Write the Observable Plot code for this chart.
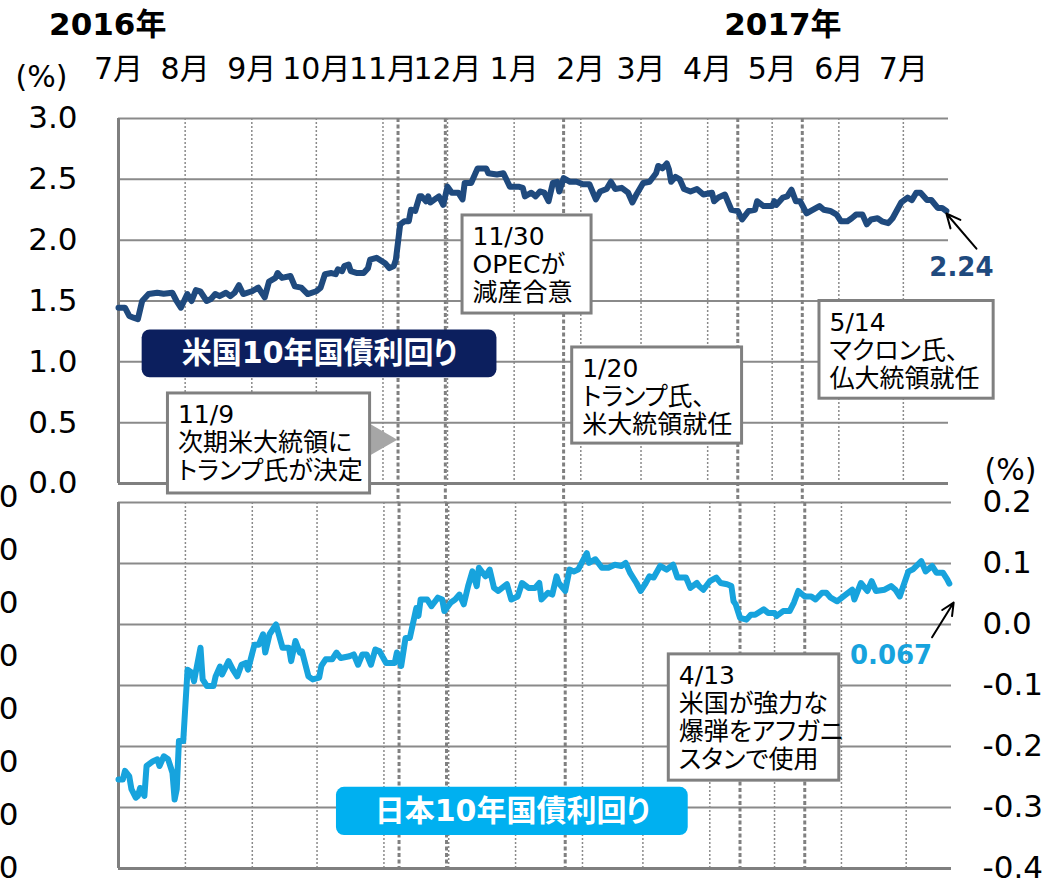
<!DOCTYPE html>
<html><head><meta charset="utf-8">
<script src="https://cdn.jsdelivr.net/npm/d3@7"></script>
<script src="https://cdn.jsdelivr.net/npm/@observablehq/plot@0.6"></script>
<style>
body{margin:0;background:#fff;}
#chart{position:relative;width:1049px;height:882px;overflow:hidden;background:#fff;}
#chart svg{position:absolute;left:0;top:0;}
#chart svg text{font-feature-settings:"palt";}
</style></head><body><div id="chart"></div>
<script>
// ---------- data ----------
const monthTickDates = ["2016-07-01","2016-08-01","2016-09-01","2016-10-01","2016-11-01","2016-12-01",
  "2017-01-01","2017-02-01","2017-03-01","2017-04-01","2017-05-01","2017-06-01","2017-07-01"];
const monthTickLabels = ["7月","8月","9月","10月","11月","12月","1月","2月","3月","4月","5月","6月","7月"];
const usTicks = [0, 0.5, 1, 1.5, 2, 2.5, 3];
const jpTicks = [-0.4, -0.3, -0.2, -0.1, 0, 0.1, 0.2];
const hiddenLeftTicks = [0, 1, 2, 3, 4, 5, 6, 7];
const yearLabels = ["2016年", "2017年"];
const yearLabelDates = ["2016-06-26", "2017-05-06"];
const eventDates = ["2016-11-08", "2016-11-30", "2017-01-24", "2017-04-15", "2017-05-15"];

const usDates = [
  "2016-07-01","2016-07-04","2016-07-06","2016-07-08","2016-07-10","2016-07-12","2016-07-15","2016-07-19","2016-07-22","2016-07-26","2016-07-28","2016-07-30",
  "2016-08-02","2016-08-04","2016-08-06","2016-08-08","2016-08-11","2016-08-13","2016-08-15","2016-08-17","2016-08-20","2016-08-22","2016-08-24","2016-08-26","2016-08-28",
  "2016-09-01","2016-09-04","2016-09-07","2016-09-09","2016-09-12","2016-09-13","2016-09-15","2016-09-19","2016-09-21","2016-09-24","2016-09-27",
  "2016-10-01","2016-10-03","2016-10-05","2016-10-08","2016-10-10","2016-10-11","2016-10-13","2016-10-14","2016-10-16","2016-10-17","2016-10-20","2016-10-23","2016-10-25","2016-10-26","2016-10-29",
  "2016-11-02","2016-11-04","2016-11-06","2016-11-07","2016-11-09","2016-11-11","2016-11-13","2016-11-14","2016-11-16","2016-11-18","2016-11-19","2016-11-21","2016-11-22","2016-11-23","2016-11-27","2016-11-29",
  "2016-12-01","2016-12-03","2016-12-06","2016-12-08","2016-12-09","2016-12-12","2016-12-15","2016-12-19","2016-12-20","2016-12-24","2016-12-27","2016-12-30",
  "2017-01-03","2017-01-05","2017-01-06","2017-01-09","2017-01-11","2017-01-13","2017-01-15","2017-01-17","2017-01-19","2017-01-21","2017-01-22","2017-01-24","2017-01-27","2017-01-30",
  "2017-02-02","2017-02-05","2017-02-08","2017-02-10","2017-02-13","2017-02-15","2017-02-17","2017-02-20","2017-02-23","2017-02-25","2017-02-27",
  "2017-03-02","2017-03-05","2017-03-08","2017-03-09","2017-03-11","2017-03-13","2017-03-14","2017-03-15","2017-03-17","2017-03-19","2017-03-21","2017-03-24","2017-03-27","2017-03-30",
  "2017-04-03","2017-04-04","2017-04-06","2017-04-09","2017-04-12","2017-04-15","2017-04-17","2017-04-20","2017-04-23","2017-04-24","2017-04-27",
  "2017-05-01","2017-05-02","2017-05-03","2017-05-06","2017-05-08","2017-05-10","2017-05-12","2017-05-14","2017-05-17","2017-05-19","2017-05-23","2017-05-25","2017-05-28","2017-05-31",
  "2017-06-02","2017-06-05","2017-06-07","2017-06-09","2017-06-12","2017-06-14","2017-06-16","2017-06-19","2017-06-21","2017-06-24","2017-06-26","2017-06-30",
  "2017-07-03","2017-07-05","2017-07-07","2017-07-09","2017-07-12","2017-07-14","2017-07-17","2017-07-19","2017-07-21"];
const usValues = [
  1.445,1.445,1.377,1.363,1.35,1.50,1.557,1.568,1.56,1.568,1.50,1.445,
  1.557,1.50,1.59,1.58,1.50,1.516,1.557,1.54,1.568,1.54,1.568,1.63,1.557,
  1.58,1.61,1.53,1.66,1.69,1.73,1.69,1.705,1.62,1.61,1.557,
  1.58,1.61,1.72,1.73,1.72,1.76,1.745,1.787,1.80,1.745,1.73,1.73,1.77,1.84,1.855,
  1.81,1.77,1.787,1.84,2.13,2.155,2.155,2.25,2.24,2.36,2.36,2.32,2.36,2.31,2.36,2.29,
  2.44,2.39,2.39,2.335,2.47,2.47,2.59,2.59,2.55,2.54,2.55,2.44,
  2.44,2.43,2.36,2.39,2.36,2.40,2.39,2.32,2.47,2.48,2.40,2.51,2.48,2.48,
  2.46,2.46,2.335,2.40,2.42,2.48,2.42,2.43,2.39,2.31,2.38,
  2.47,2.48,2.55,2.61,2.59,2.63,2.58,2.48,2.52,2.50,2.42,2.40,2.42,2.375,
  2.39,2.32,2.35,2.375,2.25,2.24,2.17,2.24,2.25,2.32,2.28,
  2.28,2.32,2.29,2.35,2.36,2.415,2.32,2.32,2.22,2.24,2.28,2.25,2.24,2.21,
  2.155,2.155,2.18,2.21,2.21,2.13,2.17,2.18,2.155,2.14,2.18,2.31,
  2.35,2.33,2.39,2.39,2.33,2.33,2.265,2.265,2.24];

const jpDates = [
  "2016-07-01","2016-07-03","2016-07-04","2016-07-06","2016-07-07","2016-07-09","2016-07-10","2016-07-11","2016-07-13","2016-07-14","2016-07-17","2016-07-19","2016-07-20","2016-07-22","2016-07-24","2016-07-26","2016-07-27","2016-07-28","2016-07-29","2016-07-31",
  "2016-08-02","2016-08-04","2016-08-05","2016-08-08","2016-08-09","2016-08-11","2016-08-14","2016-08-15","2016-08-17","2016-08-18","2016-08-21","2016-08-23","2016-08-25","2016-08-27","2016-08-29","2016-08-30",
  "2016-09-02","2016-09-04","2016-09-06","2016-09-07","2016-09-09","2016-09-12","2016-09-15","2016-09-18","2016-09-19","2016-09-21","2016-09-23","2016-09-24","2016-09-27","2016-09-29",
  "2016-10-02","2016-10-03","2016-10-05","2016-10-08","2016-10-10","2016-10-12","2016-10-16","2016-10-18","2016-10-20","2016-10-22","2016-10-24","2016-10-26","2016-10-28","2016-10-30",
  "2016-11-02","2016-11-06","2016-11-07","2016-11-09","2016-11-11","2016-11-13","2016-11-16","2016-11-17","2016-11-18","2016-11-21","2016-11-23","2016-11-26","2016-11-28","2016-11-29",
  "2016-12-02","2016-12-04","2016-12-06","2016-12-08","2016-12-10","2016-12-12","2016-12-14","2016-12-15","2016-12-18","2016-12-20","2016-12-22","2016-12-24","2016-12-28","2016-12-30",
  "2017-01-02","2017-01-04","2017-01-07","2017-01-10","2017-01-12","2017-01-13","2017-01-16","2017-01-18","2017-01-20","2017-01-21","2017-01-24","2017-01-26","2017-01-28","2017-01-30",
  "2017-02-03","2017-02-04","2017-02-07","2017-02-10","2017-02-13","2017-02-16","2017-02-19","2017-02-21","2017-02-23","2017-02-26","2017-02-28",
  "2017-03-02","2017-03-04","2017-03-06","2017-03-09","2017-03-12","2017-03-15","2017-03-17","2017-03-21","2017-03-23","2017-03-26","2017-03-27","2017-03-29",
  "2017-04-01","2017-04-04","2017-04-06","2017-04-09","2017-04-11","2017-04-12","2017-04-13","2017-04-15","2017-04-18","2017-04-20","2017-04-22","2017-04-26","2017-04-28",
  "2017-05-01","2017-05-02","2017-05-05","2017-05-08","2017-05-10","2017-05-12","2017-05-15","2017-05-18","2017-05-20","2017-05-23","2017-05-25","2017-05-27","2017-05-30",
  "2017-06-03","2017-06-06","2017-06-07","2017-06-10","2017-06-13","2017-06-15","2017-06-17","2017-06-21","2017-06-24","2017-06-26","2017-06-28",
  "2017-07-02","2017-07-04","2017-07-08","2017-07-10","2017-07-13","2017-07-15","2017-07-18","2017-07-20","2017-07-21"];
const jpValues = [
  -0.254,-0.254,-0.240,-0.249,-0.270,-0.284,-0.281,-0.268,-0.281,-0.232,-0.224,-0.221,-0.232,-0.216,-0.221,-0.243,-0.287,-0.270,-0.191,-0.191,
  -0.074,-0.079,-0.093,-0.038,-0.090,-0.101,-0.101,-0.085,-0.069,-0.082,-0.060,-0.074,-0.085,-0.066,-0.063,-0.074,
  -0.033,-0.033,-0.016,-0.046,-0.016,0.0,-0.038,-0.038,-0.060,-0.027,-0.046,-0.044,-0.085,-0.090,
  -0.087,-0.068,-0.057,-0.057,-0.046,-0.055,-0.052,-0.049,-0.066,-0.049,-0.049,-0.066,-0.041,-0.044,
  -0.063,-0.063,-0.046,-0.068,-0.022,-0.022,0.027,0.014,0.041,0.041,0.030,0.044,0.041,0.022,
  0.036,0.041,0.049,0.033,0.063,0.087,0.063,0.093,0.079,0.090,0.060,0.055,0.066,0.041,
  0.046,0.068,0.060,0.060,0.068,0.041,0.052,0.049,0.079,0.068,0.055,0.090,0.087,0.090,
  0.117,0.101,0.107,0.093,0.093,0.098,0.096,0.101,0.085,0.068,0.055,
  0.066,0.079,0.077,0.096,0.090,0.098,0.077,0.077,0.060,0.068,0.063,0.057,
  0.071,0.077,0.068,0.066,0.063,0.038,0.033,0.011,0.008,0.016,0.016,0.025,0.019,
  0.019,0.014,0.022,0.022,0.036,0.055,0.046,0.046,0.041,0.052,0.052,0.044,0.038,
  0.049,0.057,0.041,0.068,0.055,0.071,0.055,0.057,0.063,0.057,0.046,
  0.087,0.090,0.104,0.087,0.096,0.085,0.085,0.074,0.067];

const usSeriesName = "米国10年国債利回り";
const jpSeriesName = "日本10年国債利回り";
const usLastLabel = "2.24";
const jpLastLabel = "0.067";
const unitLabel = "(%)";
const usNoteTexts = ["11/9\n次期米大統領に\nトランプ氏が決定", "11/30\nOPECが\n減産合意", "1/20\nトランプ氏、\n米大統領就任", "5/14\nマクロン氏、\n仏大統領就任"];
const jpNoteTexts = ["4/13\n米国が強力な\n爆弾をアフガニ\nスタンで使用"];

// ---------- layout (annotation placement in data space) ----------
const usNoteBoxes = [
  {x1: "2016-07-24", x2: "2016-10-26", y1: 0.74, y2: -0.082},
  {x1: "2016-12-08", x2: "2017-02-06", y1: 2.203, y2: 1.397},
  {x1: "2017-01-28", x2: "2017-04-17", y1: 1.118, y2: 0.328},
  {x1: "2017-05-23", x2: "2017-08-12", y1: 1.50, y2: 0.697}
];
const jpNoteBoxes = [{x1: "2017-03-13", x2: "2017-05-31", y1: -0.049, y2: -0.256}];
const usNameBox = {x1: "2016-07-12", x2: "2016-12-24", y1: 1.262, y2: 0.869};
const jpNameBox = {x1: "2016-10-10", x2: "2017-03-22", y1: -0.267, y2: -0.346};
const usPointer = {x: "2016-10-30", y: 0.36};
const usArrow = {x1: "2017-08-04", y1: 1.93, x2: "2017-07-21", y2: 2.219};
const jpArrow = {x1: "2017-07-13", y1: -0.021, x2: "2017-07-23", y2: 0.036};
const usLastPos = {x: "2017-07-28", y: 1.775};
const jpLastPos = {x: "2017-06-24", y: -0.051};

// ---------- build ----------
const P = s => new Date(s);
const FONT = '"DejaVu Sans", "Noto Sans CJK JP", sans-serif';
const xDomain = [P("2016-07-01"), P("2017-07-22")];
const monthTicks = monthTickDates.map(P);
const monthLabelMap = new Map(monthTicks.map((d, i) => [+d, monthTickLabels[i]]));
const fmt1 = d => d.toFixed(1);
const mid = (a, b) => new Date((+P(a) + +P(b)) / 2);

const usData = usDates.map((d, i) => ({date: P(d), value: usValues[i]}));
const jpData = jpDates.map((d, i) => ({date: P(d), value: jpValues[i]}));
const usNotes = usNoteBoxes.map((b, i) => ({...b, x1: P(b.x1), x2: P(b.x2), text: usNoteTexts[i]}));
const jpNotes = jpNoteBoxes.map((b, i) => ({...b, x1: P(b.x1), x2: P(b.x2), text: jpNoteTexts[i]}));
const years = yearLabels.map((t, i) => ({label: t, date: P(yearLabelDates[i])}));

const GRID = "#8a8a8a";
const US_COLOR = "#1f4a7e";
const JP_COLOR = "#17a3dd";
const AXIS_FS = 31;
const styleBase = {fontFamily: FONT, fontSize: "27px", background: "transparent", overflow: "visible", color: "#000"};

const bottomPlot = Plot.plot({
  width: 1049, height: 882,
  marginTop: 502, marginBottom: 14, marginLeft: 118, marginRight: 98,
  style: styleBase,
  x: {type: "utc", domain: xDomain, axis: null},
  y: {domain: [-0.4, 0.2], axis: null},
  marks: [
    Plot.ruleY(jpTicks, {stroke: GRID, strokeWidth: 2}),
    Plot.ruleX(monthTicks.slice(1), {stroke: GRID, strokeWidth: 1.5, strokeDasharray: "2,2"}),
    Plot.ruleX(eventDates.map(P), {stroke: "#808080", strokeWidth: 3, strokeDasharray: "4,2.5"}),
    Plot.ruleY([-0.4], {stroke: "#7f7f7f", strokeWidth: 3}),
    Plot.ruleX([xDomain[0]], {stroke: "#7f7f7f", strokeWidth: 3}),
    Plot.line(jpData, {x: "date", y: "value", stroke: JP_COLOR, strokeWidth: 6, strokeLinejoin: "round", strokeLinecap: "round"}),
    Plot.rect(jpNotes, {x1: "x1", x2: "x2", y1: "y1", y2: "y2", fill: "white", stroke: "#808080", strokeWidth: 3}),
    Plot.text(jpNotes, {x: "x1", y: "y1", text: "text", textAnchor: "start", lineAnchor: "top", lineHeight: 1.12, fontSize: 25, dx: 10, dy: 10, fill: "#000"}),
    Plot.rect([jpNameBox], {x1: d => P(d.x1), x2: d => P(d.x2), y1: "y1", y2: "y2", fill: "#00b0f0", rx: 8}),
    Plot.text([jpNameBox], {x: d => mid(d.x1, d.x2), y: d => (d.y1 + d.y2) / 2, text: () => jpSeriesName, fill: "white", fontWeight: "bold", fontSize: 30}),
    Plot.arrow([jpArrow], {x1: d => P(d.x1), y1: "y1", x2: d => P(d.x2), y2: "y2", stroke: "#000", strokeWidth: 2, headLength: 14, headAngle: 50}),
    Plot.text([jpLastPos], {x: d => P(d.x), y: "y", text: () => jpLastLabel, fill: JP_COLOR, fontWeight: "bold", fontSize: 26}),
    Plot.axisY({anchor: "right", ticks: jpTicks, tickFormat: fmt1, tickSize: 0, tickPadding: 31, fontSize: AXIS_FS, label: null}),
    Plot.text([unitLabel], {frameAnchor: "top-right", textAnchor: "middle", lineAnchor: "middle", dx: 59, dy: -32, fontSize: 30})
  ]
});

const hiddenPlot = Plot.plot({
  width: 40, height: 882,
  marginTop: 497, marginBottom: 14, marginLeft: 18, marginRight: 0,
  style: styleBase,
  y: {domain: [0, 7], axis: null},
  marks: [
    Plot.axisY({anchor: "left", ticks: hiddenLeftTicks, tickFormat: fmt1, tickSize: 0, tickPadding: 0, fontSize: AXIS_FS, label: null})
  ]
});

const topPlot = Plot.plot({
  width: 1049, height: 502,
  marginTop: 118, marginBottom: 19, marginLeft: 118, marginRight: 101,
  style: styleBase,
  x: {type: "utc", domain: xDomain},
  y: {domain: [0, 3]},
  marks: [
    Plot.ruleY(usTicks.filter(d => d > 0), {stroke: GRID, strokeWidth: 2}),
    Plot.ruleX(monthTicks.slice(1), {stroke: GRID, strokeWidth: 1.5, strokeDasharray: "2,2"}),
    Plot.ruleX(eventDates.map(P), {stroke: "#808080", strokeWidth: 3, strokeDasharray: "4,2.5", insetBottom: -19}),
    Plot.ruleY([0], {stroke: "#7f7f7f", strokeWidth: 3}),
    Plot.ruleX([xDomain[0]], {stroke: "#7f7f7f", strokeWidth: 3}),
    Plot.line(usData, {x: "date", y: "value", stroke: US_COLOR, strokeWidth: 6, strokeLinejoin: "round", strokeLinecap: "round"}),
    Plot.rect([usNameBox], {x1: d => P(d.x1), x2: d => P(d.x2), y1: "y1", y2: "y2", fill: "#0c1f5e", rx: 8}),
    Plot.text([usNameBox], {x: d => mid(d.x1, d.x2), y: d => (d.y1 + d.y2) / 2, text: () => usSeriesName, fill: "white", fontWeight: "bold", fontSize: 30}),
    Plot.dot([usPointer], {x: d => P(d.x), y: "y", symbol: "triangle", r: 12, rotate: 90, fill: "#a6a6a6", stroke: "none"}),
    Plot.rect(usNotes, {x1: "x1", x2: "x2", y1: "y1", y2: "y2", fill: "white", stroke: "#808080", strokeWidth: 3}),
    Plot.text(usNotes, {x: "x1", y: "y1", text: "text", textAnchor: "start", lineAnchor: "top", lineHeight: 1.12, fontSize: 25, dx: 10, dy: 10, fill: "#000"}),
    Plot.arrow([usArrow], {x1: d => P(d.x1), y1: "y1", x2: d => P(d.x2), y2: "y2", stroke: "#000", strokeWidth: 2, headLength: 14, headAngle: 50}),
    Plot.text([usLastPos], {x: d => P(d.x), y: "y", text: () => usLastLabel, fill: US_COLOR, fontWeight: "bold", fontSize: 26}),
    Plot.axisX({anchor: "top", ticks: monthTicks, tickFormat: d => monthLabelMap.get(+d), tickSize: 0, tickPadding: 40, fontSize: 30, label: null}),
    Plot.axisY({anchor: "left", ticks: usTicks, tickFormat: fmt1, tickSize: 0, tickPadding: 41, fontSize: AXIS_FS, label: null}),
    Plot.text(years, {x: "date", text: "label", frameAnchor: "top", lineAnchor: "middle", dy: -93, fontSize: 31, fontWeight: "bold"}),
    Plot.text([unitLabel], {frameAnchor: "top-left", textAnchor: "middle", lineAnchor: "middle", dx: -77, dy: -41, fontSize: 30})
  ]
});

const chart = document.getElementById("chart");
chart.appendChild(bottomPlot);
chart.appendChild(hiddenPlot);
chart.appendChild(topPlot);
</script></body></html>
